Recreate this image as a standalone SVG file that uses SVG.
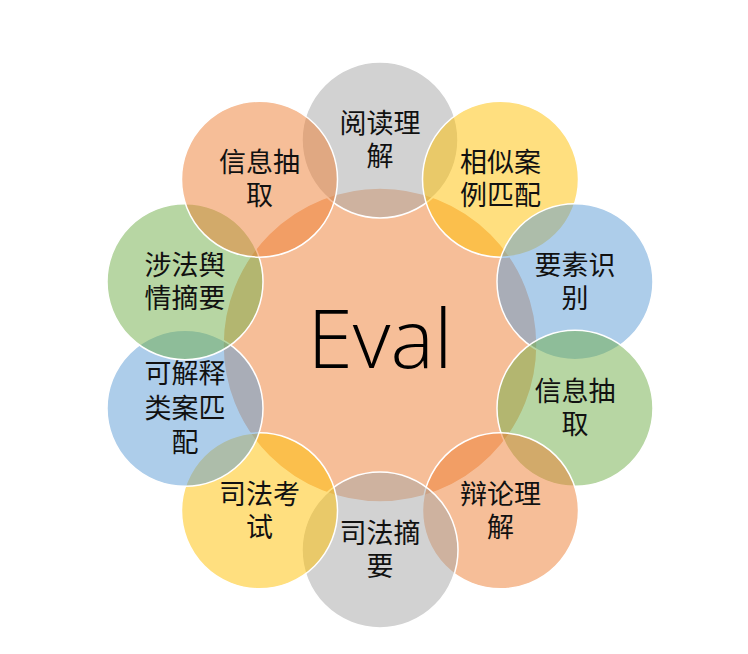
<svg xmlns="http://www.w3.org/2000/svg" width="748" height="654" viewBox="0 0 748 654">
  <style>
    .c { stroke: #ffffff; stroke-width: 1.5; fill-opacity: 0.5; }
    .gray { fill: #A5A5A5; }
    .gold { fill: #FFC000; }
    .blue { fill: #5B9BD5; }
    .green { fill: #70AD47; }
    .orange { fill: #ED7D31; }
    .lbl { font-family: "Noto Sans CJK SC", "Noto Sans", sans-serif; font-size: 27px; fill: #111111; text-anchor: middle; }
    .hub { font-family: "Open Sans", "Noto Sans", sans-serif; font-weight: 300; font-size: 82px; fill: #000000; text-anchor: middle; }
  </style>
  <rect width="748" height="654" fill="#ffffff"/>

  <!-- hub -->
  <g id="hub">
    <circle class="c orange" cx="380" cy="345" r="157" stroke="none"/>
    <text class="hub" x="380" y="368">Eval</text>
  </g>

  <!-- ring of ten tasks, radius 205 around the hub, 36° apart, clockwise from top -->
  <g id="task-reading">
    <circle class="c gray" cx="380" cy="140" r="78"/>
    <text class="lbl" x="380" y="133">阅读理<tspan x="380" dy="33">解</tspan></text>
  </g>
  <g id="task-similar-case">
    <circle class="c gold" cx="500.5" cy="179.2" r="78"/>
    <text class="lbl" x="500.5" y="172">相似案<tspan x="500.5" dy="33">例匹配</tspan></text>
  </g>
  <g id="task-element">
    <circle class="c blue" cx="575" cy="281.7" r="78"/>
    <text class="lbl" x="575" y="275">要素识<tspan x="575" dy="33">别</tspan></text>
  </g>
  <g id="task-extract-right">
    <circle class="c green" cx="575" cy="408.3" r="78"/>
    <text class="lbl" x="575" y="401">信息抽<tspan x="575" dy="33">取</tspan></text>
  </g>
  <g id="task-debate">
    <circle class="c orange" cx="500.5" cy="510.8" r="78"/>
    <text class="lbl" x="500.5" y="504">辩论理<tspan x="500.5" dy="33">解</tspan></text>
  </g>
  <g id="task-summary">
    <circle class="c gray" cx="380" cy="550" r="78"/>
    <text class="lbl" x="380" y="543">司法摘<tspan x="380" dy="33">要</tspan></text>
  </g>
  <g id="task-exam">
    <circle class="c gold" cx="259.5" cy="510.8" r="78"/>
    <text class="lbl" x="259.5" y="504">司法考<tspan x="259.5" dy="33">试</tspan></text>
  </g>
  <g id="task-explainable">
    <circle class="c blue" cx="185" cy="408.3" r="78"/>
    <text class="lbl" x="185" y="383">可解释<tspan x="185" dy="35">类案匹</tspan><tspan x="185" dy="34">配</tspan></text>
  </g>
  <g id="task-opinion">
    <circle class="c green" cx="185" cy="281.7" r="78"/>
    <text class="lbl" x="185" y="275">涉法舆<tspan x="185" dy="33">情摘要</tspan></text>
  </g>
  <g id="task-extract-left">
    <circle class="c orange" cx="259.5" cy="179.2" r="78"/>
    <text class="lbl" x="259.5" y="172">信息抽<tspan x="259.5" dy="33">取</tspan></text>
  </g>
</svg>
